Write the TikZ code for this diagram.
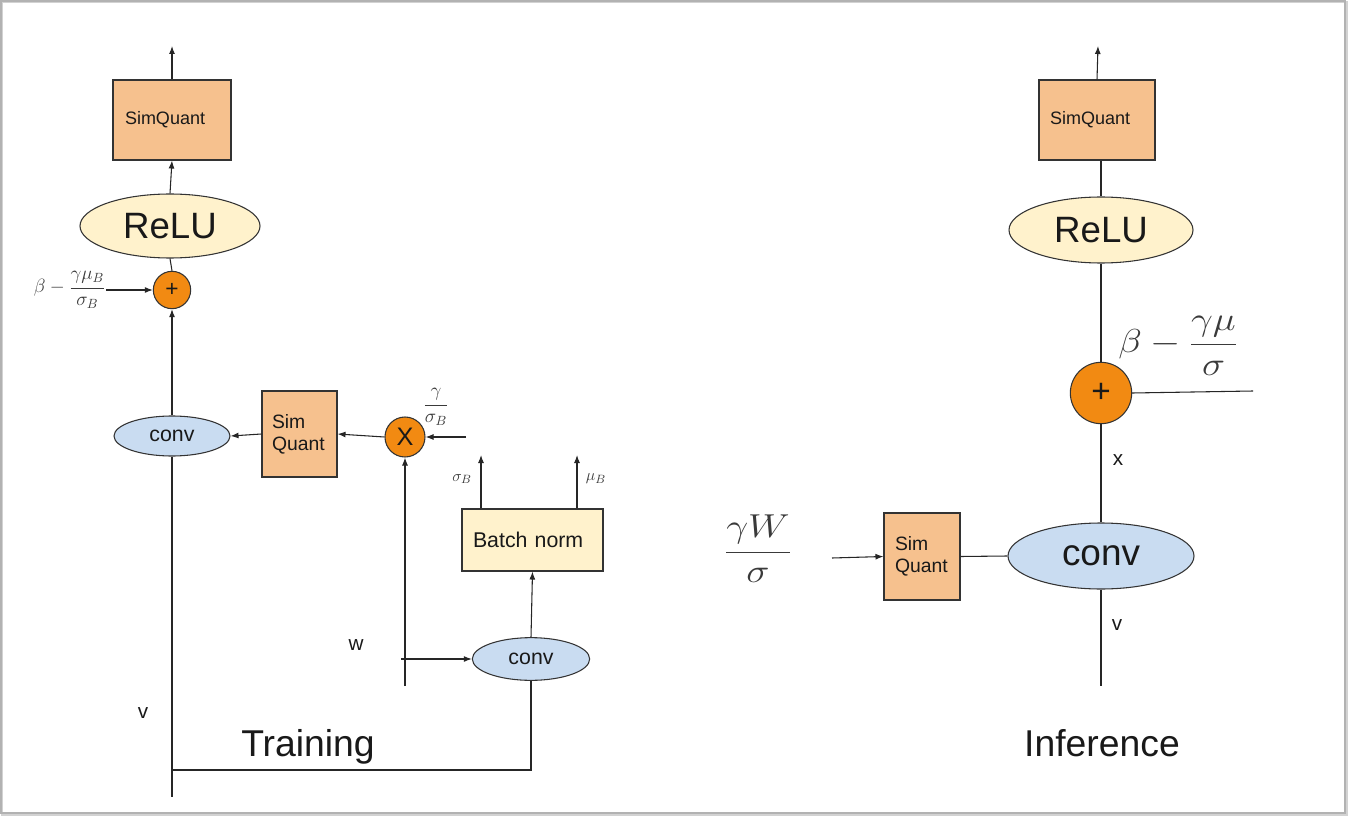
\documentclass[tikz,border=0pt]{standalone}
\usepackage{fontspec}
\setmainfont{Liberation Sans}
\usetikzlibrary{shapes.geometric,arrows.meta,calc}
\definecolor{sqfill}{HTML}{F6C18E}
\definecolor{ylfill}{HTML}{FFF2CC}
\definecolor{blfill}{HTML}{C9DCF1}
\definecolor{opfill}{HTML}{F28A12}
\definecolor{edge}{HTML}{333333}
\definecolor{mathc}{HTML}{3A3A3A}
\newcommand{\fsz}[2]{\fontsize{#1}{#2}\selectfont}
\begin{document}
\begin{tikzpicture}[x=0.75pt,y=-0.75pt,
  every node/.style={text=black!90},
  line/.style={draw=black!85,line width=0.8pt},
  arr/.style={line,-{Latex[length=6pt,width=4.5pt]}},
  sqbox/.style={rectangle,draw=edge,line width=0.8pt,fill=sqfill,inner ysep=0pt,align=left},
  bnbox/.style={rectangle,draw=edge,line width=0.8pt,fill=ylfill,inner ysep=0pt,align=left},
  reluell/.style={ellipse,draw=edge,line width=0.8pt,fill=ylfill,inner sep=0pt},
  convell/.style={ellipse,draw=edge,line width=0.8pt,fill=blfill,inner sep=0pt},
  opcirc/.style={circle,draw=edge,line width=0.8pt,fill=opfill,inner sep=0pt},
  mlab/.style={inner sep=0pt,text=mathc},
  slab/.style={inner sep=0pt,font=\fsz{15.5pt}{18pt}},
  title/.style={inner sep=0pt,font=\fsz{28pt}{32pt}}
]
\useasboundingbox (0,0) rectangle (1348,816);
% frame
\draw[gray!35,line width=1.6pt] (2,2) rectangle (1346.5,814.5);
\draw[gray!60,line width=0.8pt] (1,1) rectangle (1345,813);

% ---------------- Training ----------------
\node[sqbox,minimum height=60pt,text width=70.5pt,inner xsep=9pt,font=\fsz{13.5pt}{16pt}] (sq1) at (172,120) {SimQuant};
\node[reluell,minimum width=135pt,minimum height=48pt,font=\fsz{27.5pt}{32pt}] (relu1) at (170,226) {ReLU};
\node[opcirc,minimum size=28pt,font=\fsz{17pt}{20pt}] (plus1) at (172,290) {+};
\node[convell,minimum width=87pt,minimum height=30pt,font=\fsz{16pt}{19pt}] (conv1) at (172,436) {conv};
\node[sqbox,minimum height=64.5pt,text width=41.25pt,inner xsep=7.5pt,font=\fsz{14.5pt}{16.5pt}] (sq2) at (299.5,434) {Sim\\Quant};
\node[opcirc,minimum size=30pt,font=\fsz{19pt}{21pt}] (mul) at (405,437) {X};
\node[bnbox,minimum height=46.5pt,text width=89.25pt,inner xsep=8.25pt,font=\fsz{16pt}{19pt}] (bn) at (532.5,540) {Batch norm};
\node[convell,minimum width=88pt,minimum height=32pt,font=\fsz{16pt}{19pt}] (conv2) at (531,659) {conv};

\node[mlab,anchor=east,font=\fsz{14.5pt}{17pt}] (lab1) at (106,290) {$\displaystyle\beta-\frac{\gamma\mu_B}{\sigma_B}$};
\node[mlab,font=\fsz{14pt}{17pt}] (lab2) at (436,407) {$\displaystyle\frac{\gamma}{\sigma_B}$};
\node[mlab,font=\fsz{13pt}{15pt}] (lab3) at (462,479) {$\sigma_B$};
\node[mlab,font=\fsz{13pt}{15pt}] (lab4) at (596,479) {$\mu_B$};
\node[slab] (lw) at (356,645) {w};
\node[slab] (lv) at (143,713) {v};
\node[title,anchor=base] (ttrain) at (308,756) {Training};

\coordinate (t1) at (172,46);
\coordinate (gin) at (466,437);
\coordinate (wup) at (405,686);
\coordinate (sB) at (481,455);
\coordinate (mB) at (577,455);
\coordinate (win) at (401,659);
\coordinate (vb) at (172,797);
\coordinate (vj) at (172,770);

\draw[arr] (sq1.north) -- (t1);
\draw[arr] (relu1.north) -- (sq1.south);
\draw[line] (relu1.south) -- (plus1.north);
\draw[arr] (conv1.north) -- (plus1.south);
\draw[arr] (lab1.east) -- (plus1.west);
\draw[arr] (sq2.west) -- (conv1.east);
\draw[arr] (mul.west) -- (sq2.east);
\draw[arr] (gin) -- (mul.east);
\draw[arr] (wup) -- (mul.south);
\draw[arr] (bn.north -| sB) -- (sB);
\draw[arr] (bn.north -| mB) -- (mB);
\draw[arr] (conv2.north) -- (bn.south);
\draw[arr] (win) -- (conv2.west);
\draw[line] (conv1.south) -- (vb);
\draw[line] (vj) -| (conv2.south);

% ---------------- Inference ----------------
\node[sqbox,minimum height=60pt,text width=70.5pt,inner xsep=8.25pt,font=\fsz{13.5pt}{16pt}] (sq3) at (1097,120) {SimQuant};
\node[reluell,minimum width=138pt,minimum height=49.5pt,font=\fsz{27.5pt}{32pt}] (relu2) at (1101,230) {ReLU};
\node[opcirc,minimum size=46pt,font=\fsz{25pt}{28pt}] (plus2) at (1101,393) {+};
\node[convell,minimum width=139.5pt,minimum height=49.5pt,font=\fsz{27.7pt}{32pt}] (conv3) at (1101,556) {conv};
\node[sqbox,minimum height=65.25pt,text width=40.5pt,inner xsep=8.25pt,font=\fsz{14.5pt}{16.5pt}] (sq4) at (922,556.5) {Sim\\Quant};

\node[mlab,font=\fsz{30pt}{35pt}] (lab5) at (1178,346) {\scalebox{1.17}[1]{$\displaystyle\beta-\frac{\gamma\mu}{\sigma}$}};
\node[mlab,font=\fsz{35pt}{40pt}] (lab6) at (758,549) {\scalebox{1.18}[1]{$\displaystyle\frac{\gamma W}{\sigma}$}};
\node[slab] (lx) at (1118,460) {x};
\node[slab] (lv2) at (1117,625) {v};
\node[title,anchor=base] (tinf) at (1102,756) {Inference};

\coordinate (t2) at (1098,46);
\coordinate (pr) at (1253,391);
\coordinate (vb2) at (1101,686);
\coordinate (gw) at (832,558);

\draw[arr] (sq3.north) -- (t2);
\draw[line] (relu2.north) -- (relu2.north |- sq3.south);
\draw[line] (relu2.south) -- (plus2.north);
\draw[line] (plus2.east) -- (pr);
\draw[line] (plus2.south) -- (conv3.north);
\draw[line] (conv3.south) -- (vb2);
\draw[line] (sq4.east) -- (conv3.west);
\draw[arr] (gw) -- (sq4.west);
\end{tikzpicture}
\end{document}
